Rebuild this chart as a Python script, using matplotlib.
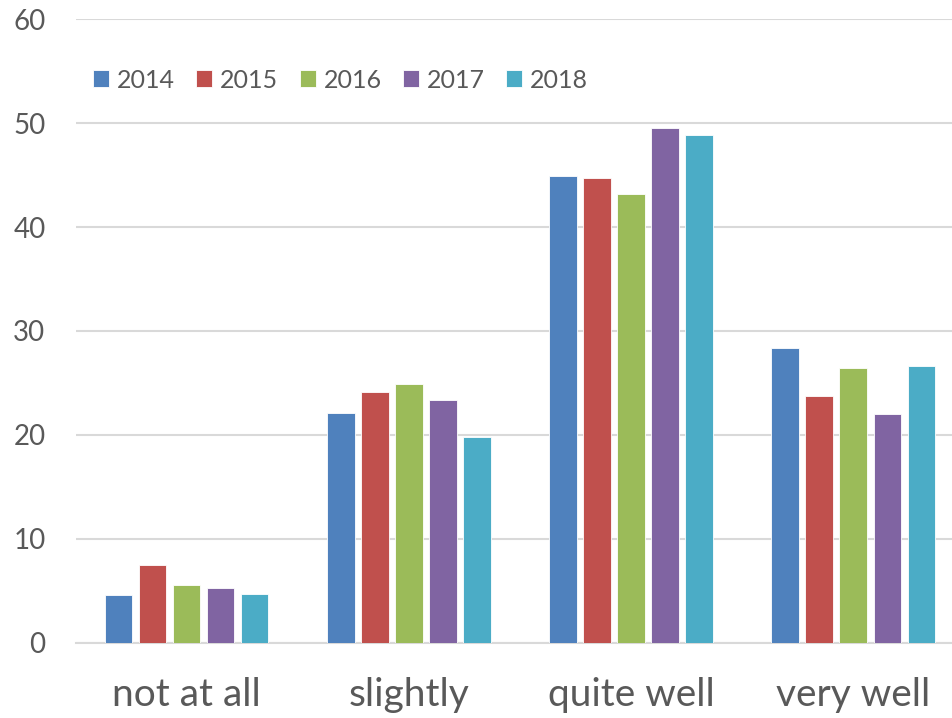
import matplotlib
matplotlib.use("Agg")
import matplotlib.pyplot as plt
import numpy as np

categories = ["not at all", "slightly", "quite well", "very well"]
years = ["2014", "2015", "2016", "2017", "2018"]
v2014 = [4.6, 22.1, 44.9, 28.4]
v2015 = [7.5, 24.1, 44.7, 23.7]
v2016 = [5.5, 24.9, 43.2, 26.4]
v2017 = [5.2, 23.3, 49.5, 22.0]
v2018 = [4.7, 19.8, 48.9, 26.6]
series = [v2014, v2015, v2016, v2017, v2018]
colors = ["#4F81BD", "#C0504D", "#9BBB59", "#8064A2", "#4BACC6"]

plt.rcParams['font.family'] = ['Lato', 'DejaVu Sans']

W, H = 953, 718
fig = plt.figure(figsize=(W / 100, H / 100), dpi=100)
left_px, right_px, zero_px, top_px = 76, 953, 642.5, 19.3
ax = fig.add_axes([left_px / W, (H - zero_px) / H, (right_px - left_px) / W, (zero_px - top_px) / H])

x = np.arange(len(categories))
pitch = 0.153
width = 0.125
for j, (vals, c, y) in enumerate(zip(series, colors, years)):
    ax.bar(x + (j - 2) * pitch, vals, width=width, color=c, label=y, zorder=3,
           edgecolor='white', linewidth=0.6)

cat_px = 222.3
xl = -0.497
ax.set_xlim(xl, xl + (right_px - left_px) / cat_px)
ax.set_ylim(0, 60)
ax.set_yticks(range(0, 61, 10))
ax.set_xticks(x)
ax.set_xticklabels(categories, fontsize=28, color="#595959")
ax.tick_params(axis='y', labelsize=20, colors="#595959", length=0, pad=22)
ax.tick_params(axis='x', length=0, pad=25)
ax.grid(axis='y', color="#d9d9d9", linewidth=1.5, zorder=0)
for s in ['top', 'right', 'left']:
    ax.spines[s].set_visible(False)
ax.spines['bottom'].set_color("#d9d9d9")
ax.spines['bottom'].set_linewidth(1.5)

handles, labels = ax.get_legend_handles_labels()
fig.legend(handles, labels, loc='center left', bbox_to_anchor=(93 / W, 1 - 80 / H),
           bbox_transform=fig.transFigure, ncol=5, frameon=False,
           fontsize=18, handlelength=0.64, handleheight=0.64, handletextpad=0.32,
           columnspacing=0.85, labelcolor="#595959", borderpad=0, borderaxespad=0)

fig.savefig("out.png", dpi=100)
